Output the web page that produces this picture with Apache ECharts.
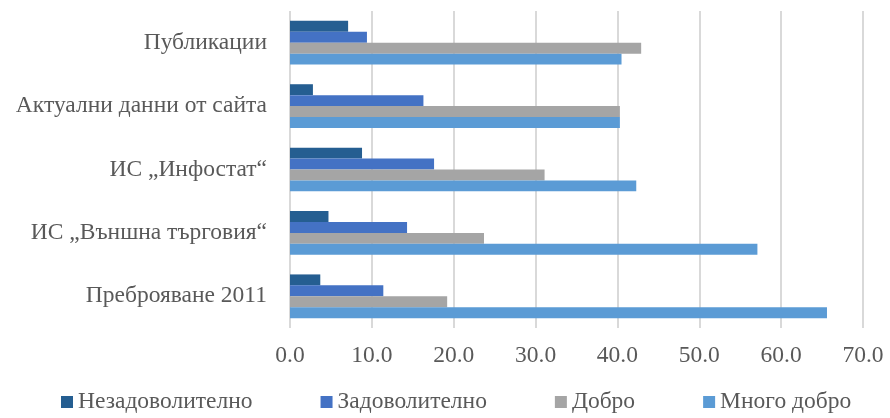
<!DOCTYPE html>
<html>
<head>
<meta charset="utf-8">
<script src="https://cdn.jsdelivr.net/npm/echarts@6/dist/echarts.min.js"></script>
<style>
  html, body { margin: 0; padding: 0; background: #ffffff; }
  #chart { width: 890px; height: 418px; }
</style>
</head>
<body>
<div id="chart"></div>
<script>
// Categories, listed from top to bottom
const categories = [
  'Публикации',
  'Актуални данни от сайта',
  'ИС „Инфостат“',
  'ИС „Външна търговия“',
  'Преброяване 2011'
];

// Ratings (%) per category, same order as above
const unsatisfactory = [7.1, 2.8, 8.8, 4.7, 3.7];
const satisfactory   = [9.4, 16.3, 17.6, 14.3, 11.4];
const good           = [42.9, 40.3, 31.1, 23.7, 19.2];
const veryGood       = [40.5, 40.3, 42.3, 57.1, 65.6];

const seriesNames = ['Незадоволително', 'Задоволително', 'Добро', 'Много добро'];
const seriesColors = ['#255E91', '#4472C4', '#A5A5A5', '#5B9BD5'];
const seriesValues = [unsatisfactory, satisfactory, good, veryGood];

const xTicks = { min: 0, max: 70, interval: 10 };

const textFont = {
  fontFamily: '"Liberation Serif", "Times New Roman", serif',
  fontSize: 23.5,
  color: '#595959'
};

const chart = echarts.init(document.getElementById('chart'), null, { renderer: 'canvas' });

chart.setOption({
  animation: false,
  backgroundColor: '#ffffff',
  grid: { left: 290, right: 27, top: 11, bottom: 90, containLabel: false },
  legend: {
    data: seriesNames,
    left: 56,
    top: 385,
    itemWidth: 12,
    itemHeight: 12,
    itemGap: 68,
    itemTextGap: 5,
    icon: 'rect',
    textStyle: textFont
  },
  xAxis: {
    type: 'value',
    min: xTicks.min,
    max: xTicks.max,
    interval: xTicks.interval,
    axisLine: { show: false },
    axisTick: { show: false },
    splitLine: { show: true, lineStyle: { color: '#D9D9D9', width: 2 } },
    axisLabel: Object.assign({ margin: 16, formatter: v => v.toFixed(1) }, textFont)
  },
  yAxis: {
    type: 'category',
    inverse: true,
    data: categories,
    axisLine: { show: false },
    axisTick: { show: false },
    axisLabel: Object.assign({ margin: 23 }, textFont)
  },
  series: seriesNames.map((name, i) => ({
    name: name,
    type: 'bar',
    data: seriesValues[i],
    barGap: '0%',
    barCategoryGap: '31%',
    itemStyle: { color: seriesColors[i] }
  }))
});
</script>
</body>
</html>
